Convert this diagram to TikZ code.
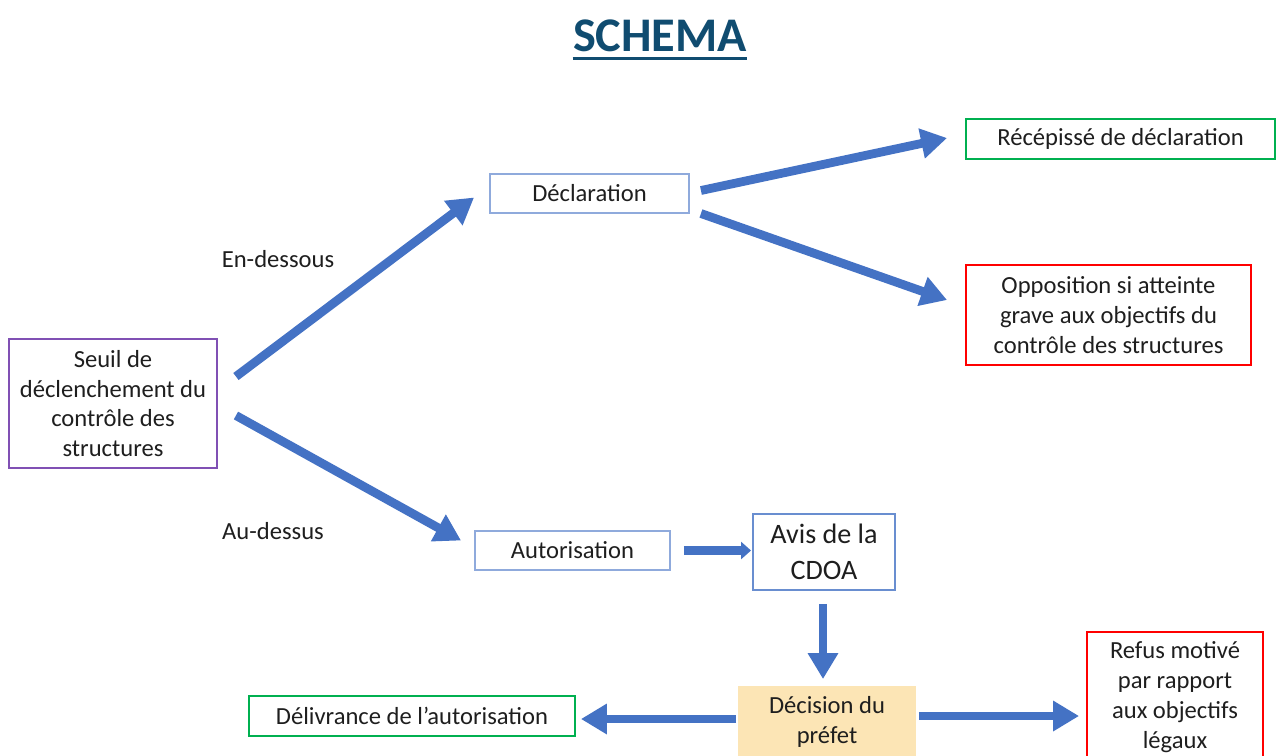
\documentclass[tikz,border=0pt]{standalone}
\usepackage{fontspec}
\setmainfont{Carlito}
\usetikzlibrary{arrows.meta,calc}

\definecolor{titrebleu}{RGB}{16,76,112}
\definecolor{flechebleu}{RGB}{68,114,196}
\definecolor{bordbleu}{RGB}{143,170,220}
\definecolor{bordviolet}{RGB}{128,80,180}
\definecolor{bordvert}{RGB}{0,176,80}
\definecolor{fondorange}{RGB}{252,229,181}
\definecolor{textgris}{RGB}{30,30,30}

\begin{document}
\begin{tikzpicture}[
    x=0.02cm, y=-0.02cm,
    % Style commun des boîtes
    boite/.style={draw, line width=1.1pt, align=center, inner sep=0pt,
        text=textgris, font=\fontsize{14}{17}\selectfont},
    % Grosses flèches bleues
    fleche/.style={draw=flechebleu, line width=5pt,
        -{Triangle[length=0.52cm,width=0.58cm]}},
    petitefleche/.style={draw=flechebleu, line width=5pt,
        -{Triangle[length=0.2cm,width=0.34cm]}}
]
    \useasboundingbox (0,0) rectangle (1276,755);

    % Titre
    \node[text=titrebleu, font=\fontsize{27.5}{34}\selectfont\bfseries,
        inner sep=0pt] (titre) at (660,36) {SCHEMA};
    \draw[titrebleu, line width=1.8pt] ($(titre.south west)+(0,6)$)
        -- ($(titre.south east)+(0,6)$);

    % Boîtes
    \node[boite, draw=bordviolet, minimum width=4.16cm, minimum height=2.58cm]
        (seuil) at (113,403.5) {Seuil de\\déclenchement du\\contrôle des\\structures};
    \node[boite, draw=bordbleu, minimum width=3.98cm, minimum height=0.78cm]
        (decl) at (589.5,193.5) {Déclaration};
    \node[boite, draw=bordvert, minimum width=6.18cm, minimum height=0.8cm]
        (recep) at (1120.5,139) {Récépissé de déclaration};
    \node[boite, draw=red, minimum width=5.7cm, minimum height=2cm]
        (oppos) at (1108.5,315) {Opposition si atteinte\\grave aux objectifs du\\contrôle des structures};
    \node[boite, draw=bordbleu, minimum width=3.9cm, minimum height=0.78cm]
        (autor) at (572.5,550.5) {Autorisation};
    \node[boite, draw=flechebleu!80, minimum width=2.84cm, minimum height=1.52cm,
        font=\fontsize{16}{20.5}\selectfont]
        (avis) at (824,552) {Avis de la\\CDOA};
    \node[boite, draw=none, fill=fondorange, minimum width=3.56cm, minimum height=1.44cm]
        (decis) at (827,722) {Décision du\\préfet};
    \node[boite, draw=bordvert, minimum width=6.52cm, minimum height=0.8cm]
        (deliv) at (412,716) {Délivrance de l’autorisation};
    \node[boite, draw=red, minimum width=3.52cm, minimum height=2.6cm]
        (refus) at (1175,697) {Refus motivé\\par rapport\\aux objectifs\\légaux};

    % Étiquettes des branches
    \node[text=textgris, font=\fontsize{14}{17}\selectfont] (dessous) at (278,259) {En-dessous};
    \node[text=textgris, font=\fontsize{14}{17}\selectfont] (dessus) at (273,531) {Au-dessus};

    % Flèches
    \draw[fleche] ($(seuil.east)+(18,-27)$) -- ($(decl.west)+(-15,4)$);
    \draw[fleche] ($(seuil.east)+(18,12)$) -- ($(autor.west)+(-13,-10)$);
    \draw[fleche] ($(decl.east)+(11,-3)$) -- ($(recep.west)+(-18,-1)$);
    \draw[fleche] ($(decl.east)+(11,20)$) -- ($(oppos.west)+(-18,-15)$);
    \draw[petitefleche] ($(autor.east)+(13,0)$) -- ($(avis.west|-autor.east)+(-1,0)$);
    \draw[fleche] ($(avis.south)+(-1,13)$) -- ($(decis.north)+(-4,-6)$);
    \coordinate (gauche) at ($(decis.west)+(-1,-3)$);
    \draw[fleche] (gauche) -- ($(deliv.east|-gauche)+(5,0)$);
    \draw[fleche] ($(decis.east)+(2,-6)$) -- ($(refus.west)+(-7,19)$);
\end{tikzpicture}
\end{document}
